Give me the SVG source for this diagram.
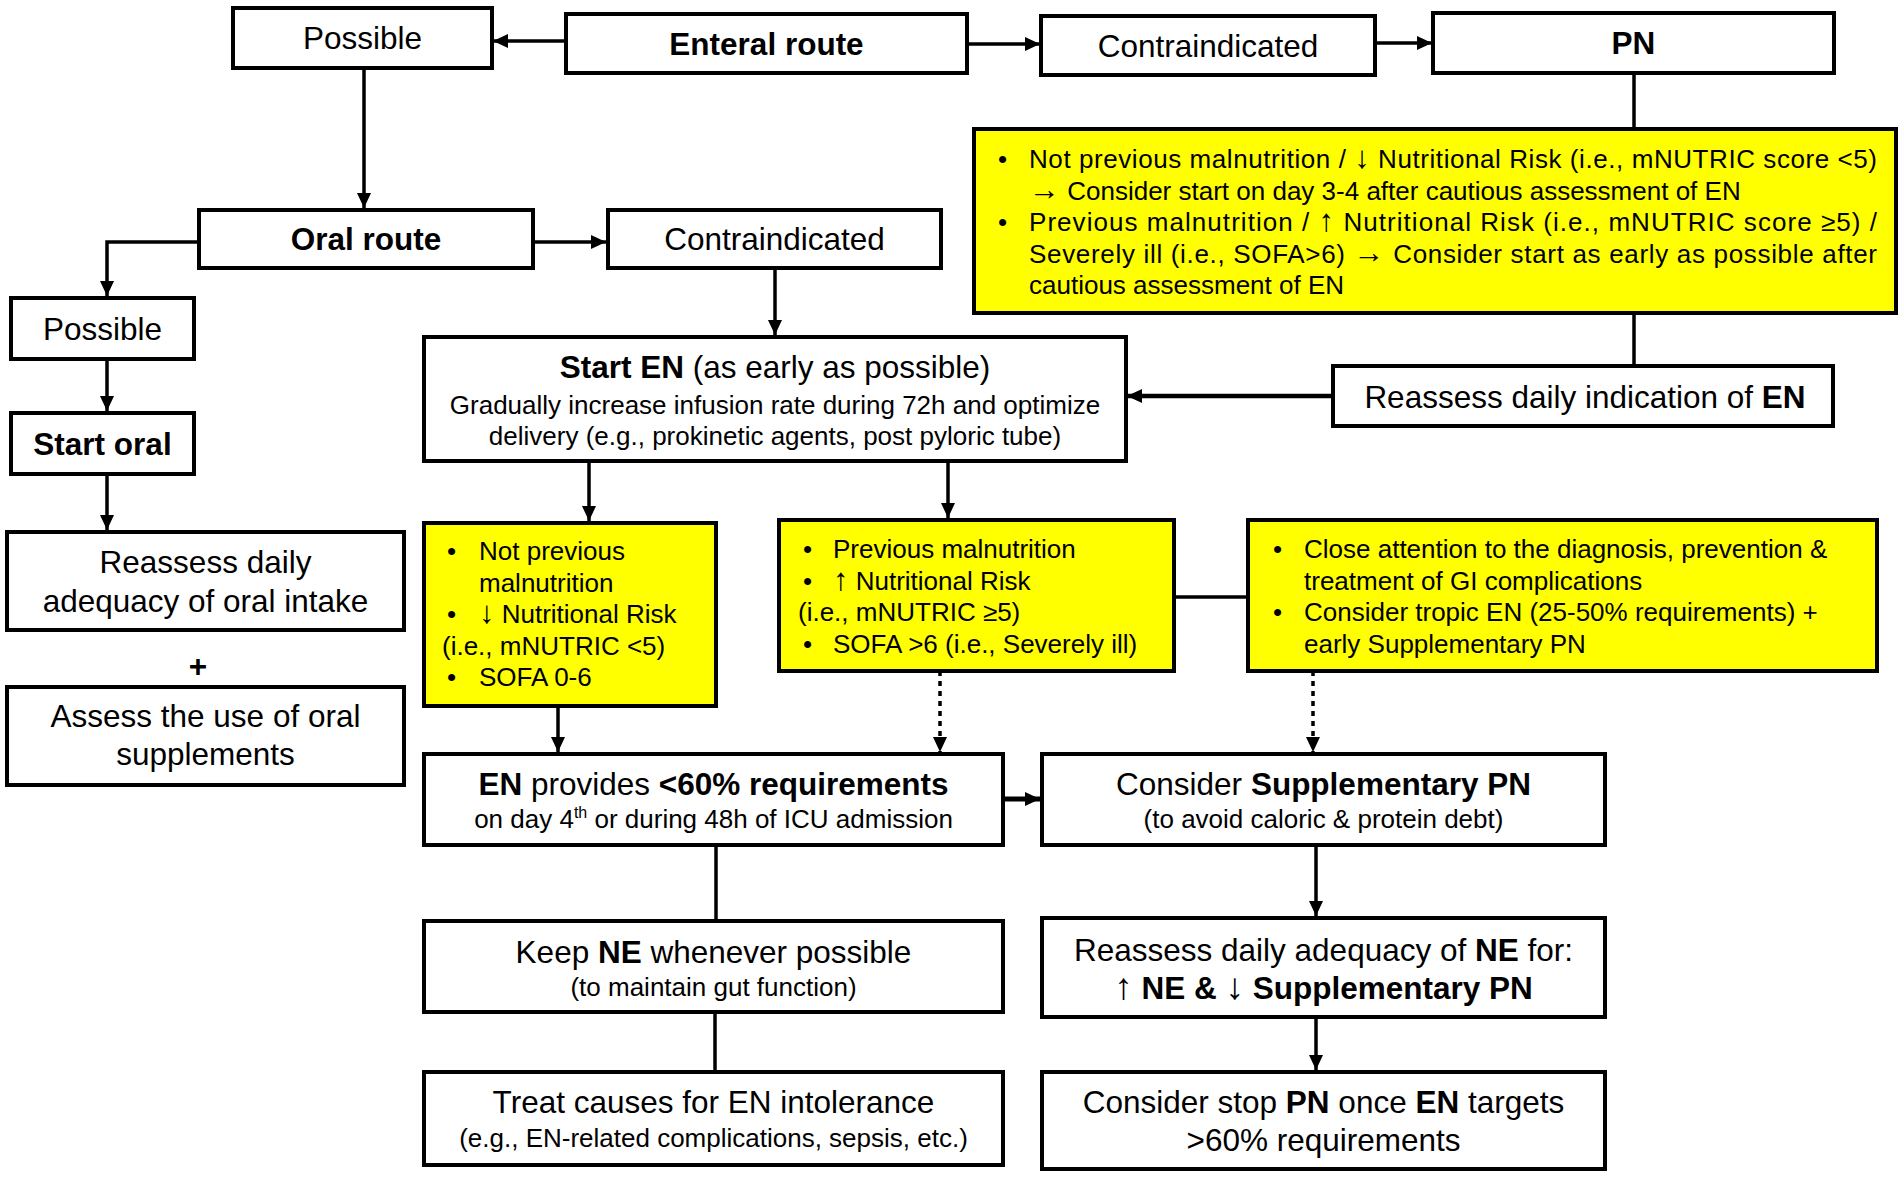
<svg xmlns="http://www.w3.org/2000/svg" width="1903" height="1178" viewBox="0 0 1903 1178">
<style>
.box{fill:#fff;stroke:#000;stroke-width:4}
.ybox{fill:#ffff00;stroke:#000;stroke-width:4}
text{font-family:"Liberation Sans",Arial,sans-serif;fill:#000}
.h{font-size:31.5px}
.s{font-size:26px}
.b{font-weight:bold}
.c{text-anchor:middle}
.s .ar{font-size:31px}
.h .ar{font-size:37px}
.ln{stroke:#000;stroke-width:3.5;fill:none}
.dot{stroke-dasharray:5 5}
.arr{marker-end:url(#ah)}
</style>
<defs>
<marker id="ah" markerUnits="userSpaceOnUse" markerWidth="16" markerHeight="14" refX="15" refY="7" orient="auto">
<path d="M0,0 L15,7 L0,14 z" fill="#000" stroke="none"/>
</marker>
</defs>
<rect width="1903" height="1178" fill="#fff"/>

<g id="connectors">
<path class="ln arr" d="M566,41 H493"/>
<path class="ln arr" d="M967,44 H1040"/>
<path class="ln arr" d="M1375,43 H1432"/>
<path class="ln" d="M1634,73 V129"/>
<path class="ln" d="M1634,313 V366"/>
<path class="ln arr" style="stroke-width:4.5" d="M1333,396 H1127"/>
<path class="ln arr" d="M364,68 V208"/>
<path class="ln arr" d="M533,242 H606"/>
<path class="ln arr" d="M199,242 H107 V296"/>
<path class="ln arr" d="M107,359 V411"/>
<path class="ln arr" d="M107,474 V530"/>
<path class="ln arr" d="M775,268 V335"/>
<path class="ln arr" d="M589,461 V521"/>
<path class="ln arr" d="M948,461 V518"/>
<path class="ln" d="M1174,597 H1248"/>
<path class="ln arr" d="M558,706 V752"/>
<path class="ln arr dot" d="M940,671 V752"/>
<path class="ln arr dot" d="M1313,671 V752"/>
<path class="ln arr" style="stroke-width:5" d="M1003,799 H1040"/>
<path class="ln" d="M716,845 V921"/>
<path class="ln" d="M715,1012 V1072"/>
<path class="ln arr" d="M1316,845 V916"/>
<path class="ln arr" d="M1316,1017 V1070"/>
</g>

<g id="possible-top">
<rect class="box" x="233" y="8" width="259" height="60"/>
<text class="h c" x="362.5" y="49">Possible</text>
</g>
<g id="enteral-route">
<rect class="box" x="566" y="14" width="401" height="59"/>
<text class="h c b" x="766.5" y="54.5">Enteral route</text>
</g>
<g id="contraindicated-top">
<rect class="box" x="1041" y="16" width="334" height="59"/>
<text class="h c" x="1208" y="56.5">Contraindicated</text>
</g>
<g id="pn">
<rect class="box" x="1433" y="13" width="401" height="60"/>
<text class="h c b" x="1633.5" y="54">PN</text>
</g>
<g id="pn-criteria">
<rect class="ybox" x="974" y="129" width="922" height="184"/>
<text class="s" x="998" y="168">•</text>
<text class="s" x="1029" y="168" textLength="848" lengthAdjust="spacing">Not previous malnutrition / <tspan class="ar">↓</tspan> Nutritional Risk (i.e., mNUTRIC score &lt;5)</text>
<text class="s" x="1029" y="199.5"><tspan class="ar">→</tspan> Consider start on day 3-4 after cautious assessment of EN</text>
<text class="s" x="998" y="231">•</text>
<text class="s" x="1029" y="231" textLength="848" lengthAdjust="spacing">Previous malnutrition / <tspan class="ar">↑</tspan> Nutritional Risk (i.e., mNUTRIC score ≥5) /</text>
<text class="s" x="1029" y="262.5" textLength="848" lengthAdjust="spacing">Severely ill (i.e., SOFA&gt;6) <tspan class="ar">→</tspan> Consider start as early as possible after</text>
<text class="s" x="1029" y="294">cautious assessment of EN</text>
</g>
<g id="oral-route">
<rect class="box" x="199" y="210" width="334" height="58"/>
<text class="h c b" x="366" y="250">Oral route</text>
</g>
<g id="contraindicated-mid">
<rect class="box" x="608" y="210" width="333" height="58"/>
<text class="h c" x="774.5" y="250">Contraindicated</text>
</g>
<g id="possible-left">
<rect class="box" x="11" y="298" width="183" height="61"/>
<text class="h c" x="102.5" y="340">Possible</text>
</g>
<g id="start-oral">
<rect class="box" x="11" y="413" width="183" height="61"/>
<text class="h c b" x="102.5" y="455">Start oral</text>
</g>
<g id="reassess-oral">
<rect class="box" x="7" y="532" width="397" height="98"/>
<text class="h c" x="205.5" y="573">Reassess daily</text>
<text class="h c" x="205.5" y="612">adequacy of oral intake</text>
</g>
<g id="plus">
<text class="h c b" x="198" y="677">+</text>
</g>
<g id="assess-oral">
<rect class="box" x="7" y="687" width="397" height="98"/>
<text class="h c" x="205.5" y="727">Assess the use of oral</text>
<text class="h c" x="205.5" y="765">supplements</text>
</g>
<g id="start-en">
<rect class="box" x="424" y="337" width="702" height="124"/>
<text class="h c" x="775" y="378"><tspan class="b">Start EN</tspan> (as early as possible)</text>
<text class="s c" x="775" y="414">Gradually increase infusion rate during 72h and optimize</text>
<text class="s c" x="775" y="445">delivery (e.g., prokinetic agents, post pyloric tube)</text>
</g>
<g id="reassess-en">
<rect class="box" x="1333" y="366" width="500" height="60"/>
<text class="h c" x="1585" y="408">Reassess daily indication of <tspan class="b">EN</tspan></text>
</g>
<g id="low-risk">
<rect class="ybox" x="424" y="523" width="292" height="183"/>
<text class="s" x="447" y="560">•</text>
<text class="s" x="479" y="560">Not previous</text>
<text class="s" x="479" y="591.5">malnutrition</text>
<text class="s" x="447" y="623">•</text>
<text class="s" x="479" y="623"><tspan class="ar">↓</tspan> Nutritional Risk</text>
<text class="s" x="442" y="654.5">(i.e., mNUTRIC &lt;5)</text>
<text class="s" x="447" y="686">•</text>
<text class="s" x="479" y="686">SOFA 0-6</text>
</g>
<g id="high-risk">
<rect class="ybox" x="779" y="520" width="395" height="151"/>
<text class="s" x="803" y="558">•</text>
<text class="s" x="833" y="558">Previous malnutrition</text>
<text class="s" x="803" y="589.5">•</text>
<text class="s" x="833" y="589.5"><tspan class="ar">↑</tspan> Nutritional Risk</text>
<text class="s" x="798" y="621">(i.e., mNUTRIC ≥5)</text>
<text class="s" x="803" y="652.5">•</text>
<text class="s" x="833" y="652.5">SOFA &gt;6 (i.e., Severely ill)</text>
</g>
<g id="gi-attention">
<rect class="ybox" x="1248" y="520" width="629" height="151"/>
<text class="s" x="1273" y="558">•</text>
<text class="s" x="1304" y="558">Close attention to the diagnosis, prevention &amp;</text>
<text class="s" x="1304" y="589.5">treatment of GI complications</text>
<text class="s" x="1273" y="621">•</text>
<text class="s" x="1304" y="621">Consider tropic EN (25-50% requirements) +</text>
<text class="s" x="1304" y="652.5">early Supplementary PN</text>
</g>
<g id="en-provides">
<rect class="box" x="424" y="754" width="579" height="91"/>
<text class="h c" x="713.5" y="795"><tspan class="b">EN</tspan> provides <tspan class="b">&lt;60% requirements</tspan></text>
<text class="s c" x="713.5" y="828">on day 4<tspan font-size="16" dy="-10">th</tspan><tspan dy="10"> or during 48h of ICU admission</tspan></text>
</g>
<g id="consider-spn">
<rect class="box" x="1042" y="754" width="563" height="91"/>
<text class="h c" x="1323.5" y="795">Consider <tspan class="b">Supplementary PN</tspan></text>
<text class="s c" x="1323.5" y="828">(to avoid caloric &amp; protein debt)</text>
</g>
<g id="keep-ne">
<rect class="box" x="424" y="921" width="579" height="91"/>
<text class="h c" x="713.5" y="963">Keep <tspan class="b">NE</tspan> whenever possible</text>
<text class="s c" x="713.5" y="996">(to maintain gut function)</text>
</g>
<g id="treat-causes">
<rect class="box" x="424" y="1072" width="579" height="93"/>
<text class="h c" x="713.5" y="1113">Treat causes for EN intolerance</text>
<text class="s c" x="713.5" y="1147">(e.g., EN-related complications, sepsis, etc.)</text>
</g>
<g id="reassess-ne">
<rect class="box" x="1042" y="918" width="563" height="99"/>
<text class="h c" x="1323.5" y="961">Reassess daily adequacy of <tspan class="b">NE</tspan> for:</text>
<text class="h c" x="1323.5" y="999"><tspan class="ar">↑</tspan> <tspan class="b">NE &amp;</tspan> <tspan class="ar">↓</tspan> <tspan class="b">Supplementary PN</tspan></text>
</g>
<g id="consider-stop">
<rect class="box" x="1042" y="1072" width="563" height="97"/>
<text class="h c" x="1323.5" y="1113">Consider stop <tspan class="b">PN</tspan> once <tspan class="b">EN</tspan> targets</text>
<text class="h c" x="1323.5" y="1151">&gt;60% requirements</text>
</g>
</svg>
